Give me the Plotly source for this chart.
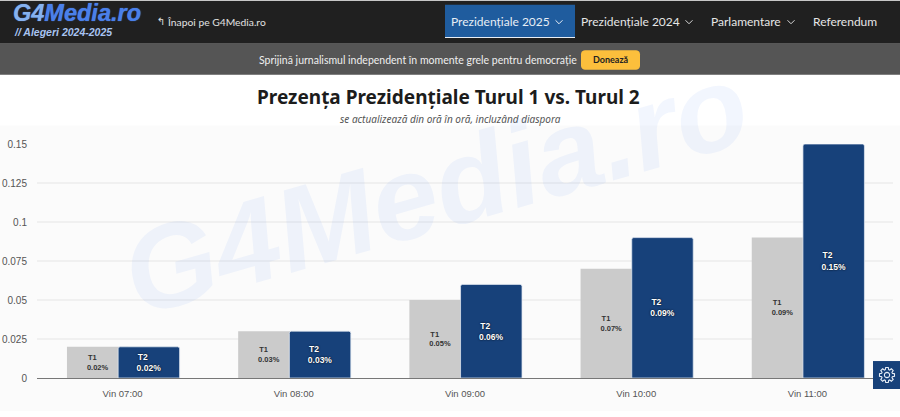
import math
import plotly.graph_objects as go

# Hourly turnout, first round vs. second round
hours = ["Vin 07:00", "Vin 08:00", "Vin 09:00", "Vin 10:00", "Vin 11:00"]
turnout_t1 = [0.02, 0.03, 0.05, 0.07, 0.09]
turnout_t2 = [0.02, 0.03, 0.06, 0.09, 0.15]
y_ticks = [0, 0.025, 0.05, 0.075, 0.1, 0.125, 0.15]
y_tick_labels = ["0", "0.025", "0.05", "0.075", "0.1", "0.125", "0.15"]

W, H = 900, 417
MR, MT, MB = 7, 143.5, 39
AXIS_LEFT = 37
NOTO = "Noto Sans"
LATO = "Lato"
ARIAL = "Liberation Sans"


def px(x):
    return x / (W - MR)


def py(y):
    return 1 - (y - MT) / (H - MT - MB)


def rect(x0, y0, x1, y1, color, layer="below"):
    return dict(type="rect", xref="paper", yref="paper", x0=px(x0), x1=px(x1),
                y0=py(y0), y1=py(y1), fillcolor=color, line_width=0, layer=layer)


def polyline(points, color, width=1.0, closed=False, layer="below"):
    body = " L".join(f"{px(x):.5f},{py(y):.5f}" for x, y in points)
    return dict(type="path", xref="paper", yref="paper", path="M" + body + (" Z" if closed else ""),
                line=dict(color=color, width=width), layer=layer)


def rounded(x0, y0, x1, y1, r, color):
    # Rounded button outline approximated by short corner arcs
    pts = []
    corners = [(x1 - r, y0 + r, -90), (x1 - r, y1 - r, 0), (x0 + r, y1 - r, 90), (x0 + r, y0 + r, 180)]
    for cx, cy, start in corners:
        for k in range(6):
            a = math.radians(start + k * 18)
            pts.append((cx + r * math.cos(a), cy + r * math.sin(a)))
    s = polyline(pts, color, width=0, closed=True)
    s["fillcolor"] = color
    return s


def chevron(x, y, color):
    return polyline([(x - 3.5, y - 1.5), (x, y + 2), (x + 3.5, y - 1.5)], color, 1.0)


def gear(cx, cy, color):
    # Cog outline with eight teeth
    pts = []
    for i in range(8):
        mid = i * math.pi / 4
        for da, r in [(-0.30, 5.6), (-0.17, 7.6), (0.17, 7.6), (0.30, 5.6)]:
            pts.append((cx + r * math.cos(mid + da), cy + r * math.sin(mid + da)))
    hole = [(cx + 2.6 * math.cos(k * math.pi / 8), cy + 2.6 * math.sin(k * math.pi / 8)) for k in range(16)]
    return [polyline(pts, color, 1.1, closed=True, layer="above"),
            polyline(hole, color, 1.1, closed=True, layer="above")]


def text(x, y, s, size, color, family=NOTO, anchor="left", shadow=None, **kw):
    font = dict(size=size, color=color, family=family)
    if shadow:
        font["shadow"] = shadow
    return dict(xref="paper", yref="paper", x=px(x), y=py(y), text=s, showarrow=False,
                xanchor=anchor, yanchor="middle", font=font, **kw)


def bar_labels(name, values, pad):
    # Trailing no-break spaces keep both lines flush left inside the centred block
    return [f"<b>{name}{chr(160) * pad}<br>{v:.2f}%</b>" for v in values]


fig = go.Figure()
fig.add_bar(x=hours, y=turnout_t1, name="T1", width=0.359, offset=-0.325,
            marker=dict(color="#cbcbcb", line_width=0),
            text=bar_labels("T1", turnout_t1, 5), textposition="inside", insidetextanchor="middle",
            textangle=0, textfont=dict(size=7.5, color="#333333", family=ARIAL), constraintext="none")
fig.add_bar(x=hours, y=turnout_t2, name="T2", width=0.359, offset=-0.026,
            marker=dict(color="#17417a", line=dict(color="rgba(225,232,242,0.75)", width=1), cornerradius=2),
            text=bar_labels("T2", turnout_t2, 5), textposition="inside", insidetextanchor="middle",
            textangle=0, textfont=dict(size=8.5, color="#ffffff", family=ARIAL, shadow="0 0 2px #000"),
            constraintext="none")

shapes = [
    rect(0, 0, W, 43, "#202020"),
    rect(0, 43, W, 74, "#555555"),
    rect(0, 125, W, 411, "#fbfbfb"),
    rect(445, 4, 575, 37, "#1f5c9e"),
    rect(445, 36.2, 575, 37.2, "#e8eef5"),
    rounded(581, 49.5, 640, 69, 4, "#fcbf3c"),
    rect(873, 361, 900, 389, "#17417a", layer="above"),
    chevron(559, 21, "#e8eef5"),
    chevron(689, 21, "#d8d8d8"),
    chevron(791, 21, "#d8d8d8"),
] + gear(887, 375, "#e6edf6")

annotations = [
    text(11, 12.5, "<b><i><span style='color:#86b2ee'>G4</span>Media.ro</i></b>", 23.5, "#4a80ea",
         family=ARIAL, shadow="0 0 1px #4a80ea"),
    text(12, 31, "<b><i>// Alegeri 2024-2025</i></b>", 10.5, "#a8c4f2", family=ARIAL),
    text(155, 21, "↰", 10, "#e0e0e0", family="DejaVu Sans"),
    text(165, 21, "Înapoi pe G4Media.ro", 10.3, "#e0e0e0", family=LATO),
    text(449, 21, "Prezidențiale 2025", 12, "#e8eef5", family=LATO),
    text(579, 21, "Prezidențiale 2024", 12, "#e6e6e6", family=LATO),
    text(709, 21, "Parlamentare", 12, "#e6e6e6", family=LATO),
    text(811, 21, "Referendum", 12, "#e6e6e6", family=LATO),
    text(579, 59, "Sprijină jurnalismul independent în momente grele pentru democrație", 10.5,
         "#efefef", family=LATO, anchor="right"),
    text(610.5, 59, "<b>Donează</b>", 9, "#222222", family=LATO, anchor="center"),
    text(449, 96, "<b>Prezența Prezidențiale Turul 1 vs. Turul 2</b>", 19, "#1c1c1c", anchor="center"),
    text(450, 118, "<i>se actualizează din oră în oră, incluzând diaspora</i>", 10, "#555555", anchor="center"),
    text(435, 189, "<b><i>G4Media.ro</i></b>", 118, "rgba(70,130,235,0.07)", family=ARIAL,
         anchor="center", textangle=-16),
]

fig.update_layout(
    width=W, height=H, margin=dict(l=0, r=MR, t=MT, b=MB),
    paper_bgcolor="#ffffff", plot_bgcolor="rgba(0,0,0,0)",
    barmode="overlay", showlegend=False, shapes=shapes, annotations=annotations,
    xaxis=dict(domain=[px(AXIS_LEFT), 1], range=[-0.5, 4.5], type="category", showgrid=False, ticks="",
               showline=True, linecolor="#777777", linewidth=1, ticklabelstandoff=7,
               tickfont=dict(size=9.5, color="#555555", family=ARIAL)),
    yaxis=dict(range=[0, 0.15], tickvals=y_ticks, ticktext=y_tick_labels, showgrid=True,
               gridcolor="#f0f0f0", gridwidth=1.5, zeroline=False, ticks="", showline=False,
               ticklabelstandoff=9, tickfont=dict(size=10, color="#555555", family=ARIAL)),
)

fig.write_html("out.html", config=dict(displayModeBar=False))
